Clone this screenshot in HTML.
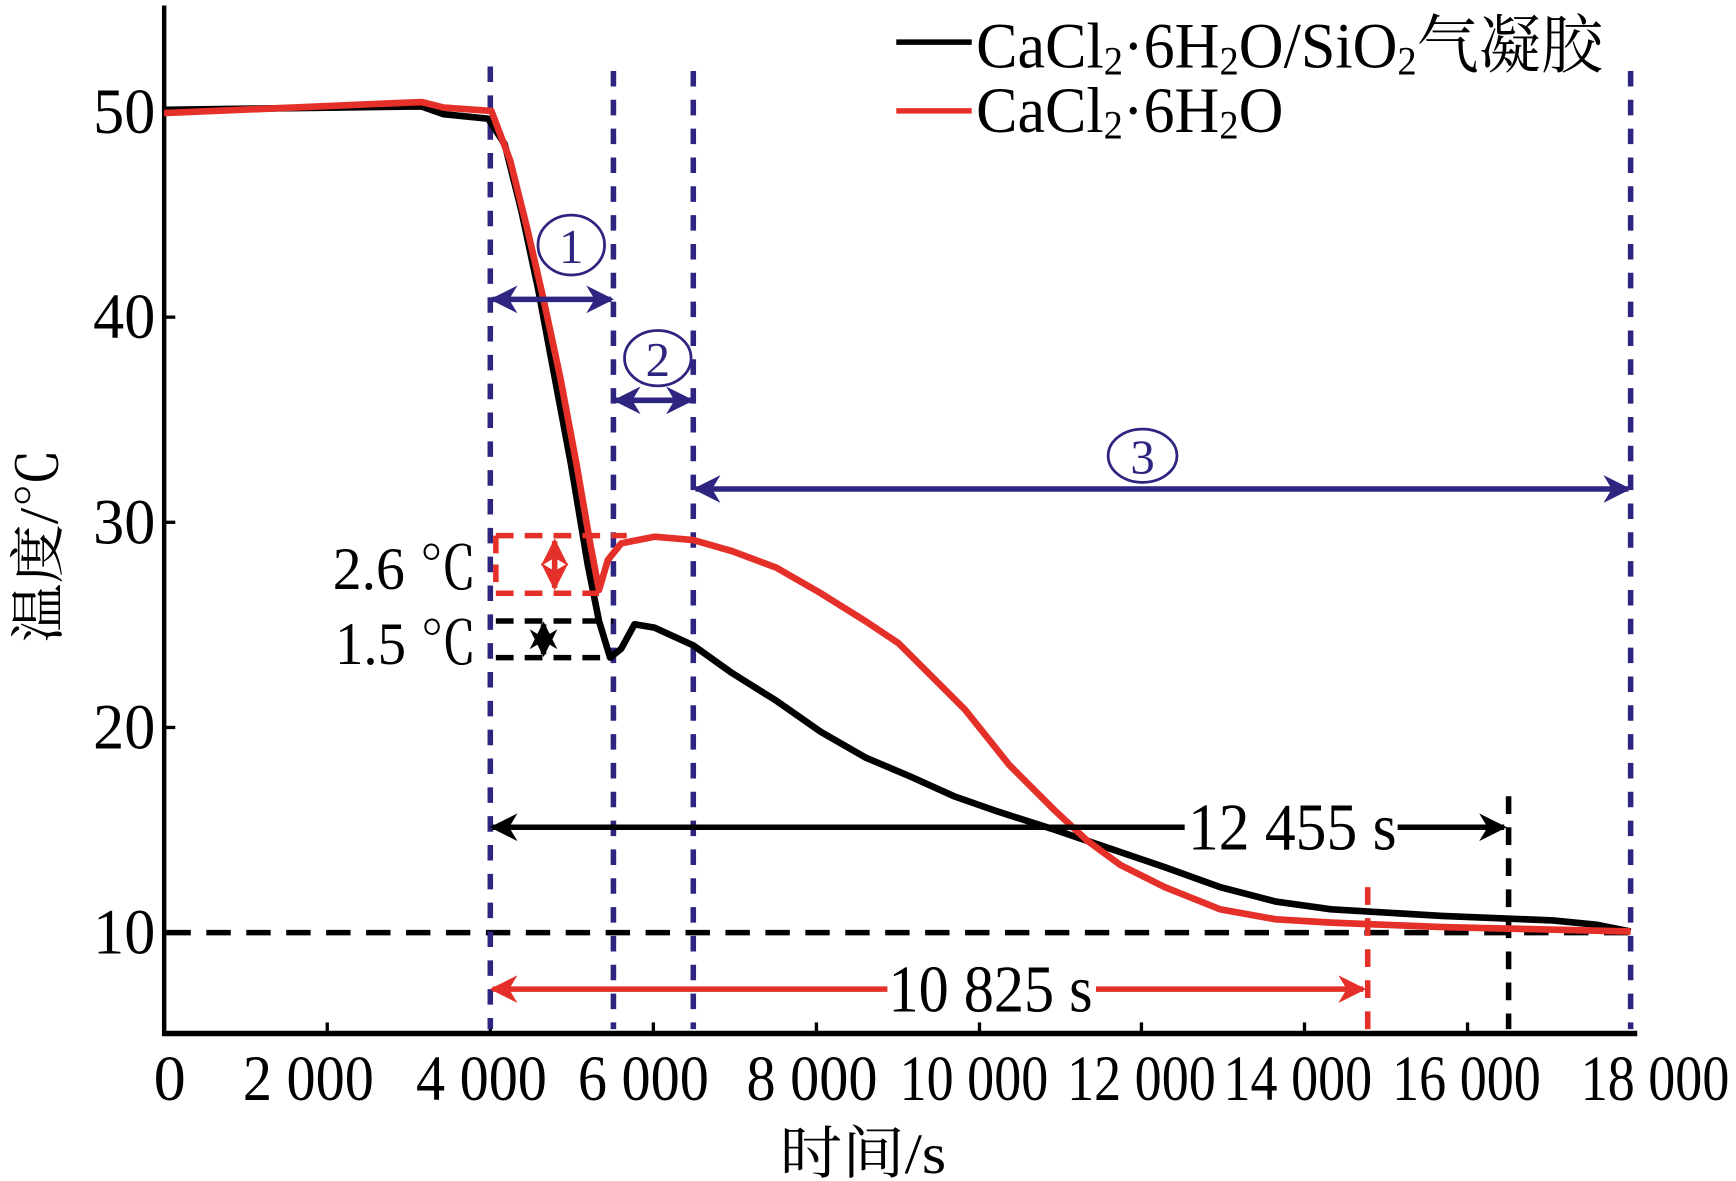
<!DOCTYPE html>
<html><head><meta charset="utf-8"><style>
html,body{margin:0;padding:0;background:#fff;}
svg{display:block;}
text{font-family:"Liberation Serif","Noto Serif CJK SC",serif;}
</style></head><body>
<svg width="1736" height="1181" viewBox="0 0 1565 1065" preserveAspectRatio="none" xmlns="http://www.w3.org/2000/svg">
<defs>
<marker id="ab" viewBox="0 0 10 10" refX="9" refY="5" markerWidth="6" markerHeight="5" orient="auto-start-reverse"><path d="M0,0 L10,5 L0,10 L3,5 Z" fill="#2e2580"/></marker>
<marker id="ak" viewBox="0 0 10 10" refX="9" refY="5" markerWidth="6" markerHeight="5" orient="auto-start-reverse"><path d="M0,0 L10,5 L0,10 L3,5 Z" fill="#000"/></marker>
<marker id="ar" viewBox="0 0 10 10" refX="9" refY="5" markerWidth="6" markerHeight="5" orient="auto-start-reverse"><path d="M0,0 L10,5 L0,10 L3,5 Z" fill="#e5302a"/></marker>
</defs>
<line x1="148" y1="5" x2="148" y2="934" stroke="#000" stroke-width="4"/>
<line x1="146" y1="932" x2="1476" y2="932" stroke="#000" stroke-width="5"/>
<g stroke="#000" stroke-width="3">
<line x1="295" y1="932" x2="295" y2="922"/><line x1="442" y1="932" x2="442" y2="922"/><line x1="589" y1="932" x2="589" y2="922"/><line x1="736" y1="932" x2="736" y2="922"/><line x1="883" y1="932" x2="883" y2="922"/><line x1="1029" y1="932" x2="1029" y2="922"/><line x1="1176" y1="932" x2="1176" y2="922"/><line x1="1323" y1="932" x2="1323" y2="922"/>
<line x1="148" y1="100" x2="158" y2="100"/><line x1="148" y1="286" x2="158" y2="286"/><line x1="148" y1="471" x2="158" y2="471"/><line x1="148" y1="656" x2="158" y2="656"/><line x1="148" y1="841" x2="158" y2="841"/>
</g>
<g font-size="58" text-anchor="end">
<text x="140" y="120" textLength="56" lengthAdjust="spacingAndGlyphs">50</text><text x="140" y="305" textLength="56" lengthAdjust="spacingAndGlyphs">40</text><text x="140" y="490" textLength="56" lengthAdjust="spacingAndGlyphs">30</text><text x="140" y="675" textLength="56" lengthAdjust="spacingAndGlyphs">20</text><text x="140" y="860" textLength="56" lengthAdjust="spacingAndGlyphs">10</text>
</g>
<g font-size="58" text-anchor="middle">
<text x="153" y="992">0</text>
<text x="278" y="992" textLength="118" lengthAdjust="spacingAndGlyphs">2 000</text>
<text x="434" y="992" textLength="118" lengthAdjust="spacingAndGlyphs">4 000</text>
<text x="580" y="992" textLength="118" lengthAdjust="spacingAndGlyphs">6 000</text>
<text x="732" y="992" textLength="118" lengthAdjust="spacingAndGlyphs">8 000</text>
<text x="878" y="992" textLength="134" lengthAdjust="spacingAndGlyphs">10 000</text>
<text x="1029" y="992" textLength="134" lengthAdjust="spacingAndGlyphs">12 000</text>
<text x="1170" y="992" textLength="134" lengthAdjust="spacingAndGlyphs">14 000</text>
<text x="1322" y="992" textLength="134" lengthAdjust="spacingAndGlyphs">16 000</text>
<text x="1492" y="992" textLength="134" lengthAdjust="spacingAndGlyphs">18 000</text>
</g>
<text x="778" y="1058" font-size="52" text-anchor="middle" textLength="150" lengthAdjust="spacingAndGlyphs">时间/s</text>
<text transform="translate(52,492) rotate(-90)" font-size="50" text-anchor="middle" textLength="175" lengthAdjust="spacingAndGlyphs">温度/℃</text>
<line x1="150" y1="841" x2="1470" y2="841" stroke="#000" stroke-width="5" stroke-dasharray="22,14"/>
<g stroke="#2e2580" stroke-width="5" stroke-dasharray="14,12">
<line x1="442" y1="60" x2="442" y2="928"/><line x1="553" y1="64" x2="553" y2="928"/><line x1="625" y1="64" x2="625" y2="928"/><line x1="1470" y1="64" x2="1470" y2="928"/>
</g>
<line x1="1360" y1="718" x2="1360" y2="928" stroke="#000" stroke-width="5" stroke-dasharray="16,12"/>
<line x1="1233" y1="800" x2="1233" y2="928" stroke="#e5302a" stroke-width="5" stroke-dasharray="16,12"/>
<polyline fill="none" stroke="#000" stroke-width="6" stroke-linejoin="round" points="148,99 380,96 400,103 440,107 455,130 470,190 485,260 500,340 515,420 530,510 540,560 550,593 560,585 572,563 590,566 625,582 660,607 700,632 740,660 780,683 820,700 860,718 900,732 950,748 1000,765 1050,782 1100,800 1150,813 1200,820 1300,826 1400,830 1440,834 1470,840"/>
<polyline fill="none" stroke="#e5302a" stroke-width="6" stroke-linejoin="round" points="148,102 380,92 400,97 443,100 460,145 475,205 490,270 505,340 520,420 532,490 540,532 548,505 560,490 590,484 625,487 660,497 700,512 740,535 780,560 810,580 840,610 870,640 910,690 950,730 980,758 1010,780 1050,800 1100,820 1150,829 1200,832 1300,836 1470,840"/>
<g stroke="#e5302a" stroke-width="5" stroke-dasharray="16,10" fill="none">
<line x1="447" y1="483" x2="565" y2="483"/><line x1="447" y1="535" x2="540" y2="535"/><line x1="447" y1="483" x2="447" y2="535"/>
</g>
<line x1="500" y1="488" x2="500" y2="530" stroke="#e5302a" stroke-width="5" marker-start="url(#ar)" marker-end="url(#ar)"/>
<g stroke="#000" stroke-width="5" stroke-dasharray="16,10" fill="none">
<line x1="447" y1="560" x2="553" y2="560"/><line x1="447" y1="593" x2="553" y2="593"/>
</g>
<line x1="490" y1="563" x2="490" y2="590" stroke="#000" stroke-width="5" marker-start="url(#ak)" marker-end="url(#ak)"/>
<text x="300" y="531" font-size="54" textLength="130" lengthAdjust="spacingAndGlyphs">2.6 ℃</text>
<text x="302" y="599" font-size="54" textLength="128" lengthAdjust="spacingAndGlyphs">1.5 ℃</text>
<g stroke="#2e2580" stroke-width="5">
<line x1="444" y1="270" x2="551" y2="270" marker-start="url(#ab)" marker-end="url(#ab)"/>
<line x1="555" y1="361" x2="623" y2="361" marker-start="url(#ab)" marker-end="url(#ab)"/>
<line x1="627" y1="441" x2="1468" y2="441" marker-start="url(#ab)" marker-end="url(#ab)"/>
</g>
<g fill="none" stroke="#2e2580" stroke-width="2.5">
<ellipse cx="515" cy="221" rx="30" ry="27"/><ellipse cx="593" cy="323" rx="30" ry="25"/><ellipse cx="1030" cy="411" rx="31" ry="24"/>
</g>
<g font-size="44" fill="#2e2580" text-anchor="middle">
<text x="515" y="237">1</text><text x="593" y="339">2</text><text x="1030" y="427">3</text>
</g>
<line x1="444" y1="746" x2="1356" y2="746" stroke="#000" stroke-width="5" marker-start="url(#ak)" marker-end="url(#ak)"/>
<rect x="1068" y="716" width="192" height="56" fill="#fff"/>
<text x="1165" y="766" font-size="60" text-anchor="middle" textLength="188" lengthAdjust="spacingAndGlyphs">12 455 s</text>
<line x1="444" y1="892" x2="1229" y2="892" stroke="#e5302a" stroke-width="5" marker-start="url(#ar)" marker-end="url(#ar)"/>
<rect x="800" y="862" width="188" height="56" fill="#fff"/>
<text x="893" y="912" font-size="60" text-anchor="middle" textLength="184" lengthAdjust="spacingAndGlyphs">10 825 s</text>
<line x1="808" y1="38" x2="876" y2="38" stroke="#000" stroke-width="5"/>
<line x1="808" y1="100" x2="876" y2="100" stroke="#e5302a" stroke-width="5"/>
<text x="880" y="61" font-size="58" textLength="565" lengthAdjust="spacingAndGlyphs">CaCl<tspan font-size="36" dy="6">2</tspan><tspan dy="-6">·6H</tspan><tspan font-size="36" dy="6">2</tspan><tspan dy="-6">O/SiO</tspan><tspan font-size="36" dy="6">2</tspan><tspan dy="-6">气凝胶</tspan></text>
<text x="880" y="119" font-size="58" textLength="277" lengthAdjust="spacingAndGlyphs">CaCl<tspan font-size="36" dy="6">2</tspan><tspan dy="-6">·6H</tspan><tspan font-size="36" dy="6">2</tspan><tspan dy="-6">O</tspan></text>
</svg>
</body></html>
